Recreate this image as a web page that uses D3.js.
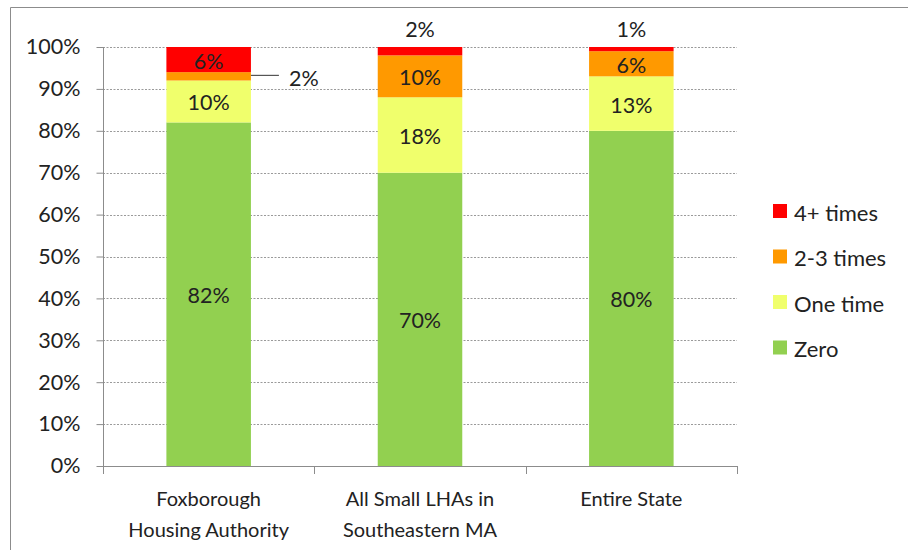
<!DOCTYPE html>
<html>
<head>
<meta charset="utf-8">
<script src="https://cdn.jsdelivr.net/npm/d3@7"></script>
<style>
	body { margin: 0; background: #fff; }
	svg { display: block; font-family: Lato, "Open Sans", sans-serif; }
</style>
</head>
<body>
<svg id="chart" width="908" height="550"></svg>
<script>
// Categories (two-line labels)
const categories = ["Foxborough Housing Authority", "All Small LHAs in Southeastern MA", "Entire State"];
const categoryLines = [["Foxborough", "Housing Authority"], ["All Small LHAs in", "Southeastern MA"], ["Entire State"]];

// Series, bottom to top
const seriesNames = ["Zero", "One time", "2-3 times", "4+ times"];
const seriesColors = ["#92D050", "#F0FF6C", "#FF9900", "#FF0000"];
const zero = [82, 70, 80];
const oneTime = [10, 18, 13];
const twoThree = [2, 10, 6];
const fourPlus = [6, 2, 1];

const yTicks = [0, 10, 20, 30, 40, 50, 60, 70, 80, 90, 100];


const svg = d3.select("#chart");

// Frame (top and left edges)
svg.append("path")
	.attr("d", "M10.5,550 V7.5 H908")
	.attr("fill", "none")
	.attr("stroke", "#8c8c8c")
	.attr("stroke-width", 1);

const margin = { left: 103, right: 171, top: 47, bottom: 84 };
const plotW = 908 - margin.left - margin.right;
const plotH = 550 - margin.top - margin.bottom;

const x = d3.scaleBand()
	.domain(categories)
	.range([margin.left, margin.left + plotW])
	.paddingInner(0.6)
	.paddingOuter(0.3);

const y = d3.scaleLinear()
	.domain([0, 100])
	.range([margin.top + plotH, margin.top]);

// Gridlines
svg.append("g")
	.selectAll("line")
	.data(yTicks.filter(t => t > 0))
	.join("line")
	.attr("x1", margin.left)
	.attr("x2", margin.left + plotW)
	.attr("y1", d => Math.round(y(d)) + .5)
	.attr("y2", d => Math.round(y(d)) + .5)
	.attr("stroke", "#9a9a9a")
	.attr("stroke-dasharray", "2,1.5");

// Stack the data
const table = categories.map((c, i) => ({
	category: c,
	"Zero": zero[i],
	"One time": oneTime[i],
	"2-3 times": twoThree[i],
	"4+ times": fourPlus[i]
}));
const stacked = d3.stack().keys(seriesNames)(table);

const layers = svg.append("g")
	.selectAll("g")
	.data(stacked)
	.join("g")
	.attr("fill", (d, i) => seriesColors[i]);

layers.selectAll("rect")
	.data(d => d)
	.join("rect")
	.attr("x", d => x(d.data.category))
	.attr("width", x.bandwidth())
	.attr("y", d => y(d[1]))
	.attr("height", d => y(d[0]) - y(d[1]));

// Data labels
const labelFont = 21.5;
layers.each(function (layer) {
	d3.select(this).selectAll("text")
		.data(layer)
		.join("text")
		.attr("font-size", labelFont)
		.attr("fill", "#222")
		.attr("dominant-baseline", "central")
		.each(function (d) {
			const v = d[1] - d[0];
			const cx = x(d.data.category) + x.bandwidth() / 2;
			const t = d3.select(this).text(v + "%");
			if (v >= 5) {
				t.attr("x", cx).attr("y", y((d[0] + d[1]) / 2) + 1).attr("text-anchor", "middle");
			} else if (layer.key === "4+ times") {
				t.attr("x", cx).attr("y", y(100) - 18).attr("text-anchor", "middle");
			} else {
				// side label with leader line
				const ly = y((d[0] + d[1]) / 2) - 1;
				const x0 = x(d.data.category) + x.bandwidth();
				svg.append("line")
					.attr("x1", x0).attr("x2", x0 + 28)
					.attr("y1", ly).attr("y2", ly)
					.attr("stroke", "#333");
				t.attr("x", x0 + 38).attr("y", ly + 3).attr("text-anchor", "start");
			}
		});
});

// Y axis
const yAxis = d3.axisLeft(y)
	.tickValues(yTicks)
	.tickSize(7)
	.tickPadding(16)
	.tickFormat(d => d + "%");

const yG = svg.append("g")
	.attr("transform", `translate(${margin.left + .5},0)`)
	.call(yAxis);
yG.select(".domain").attr("stroke", "#8c8c8c").attr("d", `M0,${y(0)}V${y(100)}`);
yG.selectAll(".tick line").attr("stroke", "#8c8c8c");
yG.selectAll(".tick text").attr("font-size", 21.5).attr("fill", "#222").attr("font-family", "Lato, sans-serif");

// X axis baseline + ticks between categories
const xG = svg.append("g");
xG.append("line")
	.attr("x1", margin.left).attr("x2", margin.left + plotW + .5)
	.attr("y1", y(0) + .5).attr("y2", y(0) + .5)
	.attr("stroke", "#8c8c8c");
const bounds = d3.range(categories.length + 1).map(i => margin.left + i * plotW / categories.length);
xG.selectAll("line.sep")
	.data(bounds)
	.join("line")
	.attr("class", "sep")
	.attr("x1", d => Math.round(d) + .5).attr("x2", d => Math.round(d) + .5)
	.attr("y1", y(0)).attr("y2", y(0) + 8)
	.attr("stroke", "#8c8c8c");

// Category labels
xG.selectAll("text")
	.data(categories)
	.join("text")
	.attr("text-anchor", "middle")
	.attr("font-size", 20)
	.attr("fill", "#222")
	.attr("x", d => x(d) + x.bandwidth() / 2)
	.attr("y", y(0) + 40)
	.each(function (d, i) {
		d3.select(this).selectAll("tspan")
			.data(categoryLines[i])
			.join("tspan")
			.attr("x", x(d) + x.bandwidth() / 2)
			.attr("dy", (l, j) => j === 0 ? 0 : 31)
			.text(l => l);
	});

// Legend, top entry first
const legend = svg.append("g")
	.attr("transform", "translate(773,211)");
const legendItems = seriesNames.slice().reverse();
const legendRow = legend.selectAll("g")
	.data(legendItems)
	.join("g")
	.attr("transform", (d, i) => `translate(0,${i * 45.5})`);
legendRow.append("rect")
	.attr("x", 0).attr("y", -7)
	.attr("width", 14).attr("height", 14)
	.attr("fill", d => seriesColors[seriesNames.indexOf(d)]);
legendRow.append("text")
	.attr("x", 21)
	.attr("y", 1)
	.attr("dominant-baseline", "central")
	.attr("font-size", 22)
	.attr("fill", "#222")
	.text(d => d);
</script>
</body>
</html>
